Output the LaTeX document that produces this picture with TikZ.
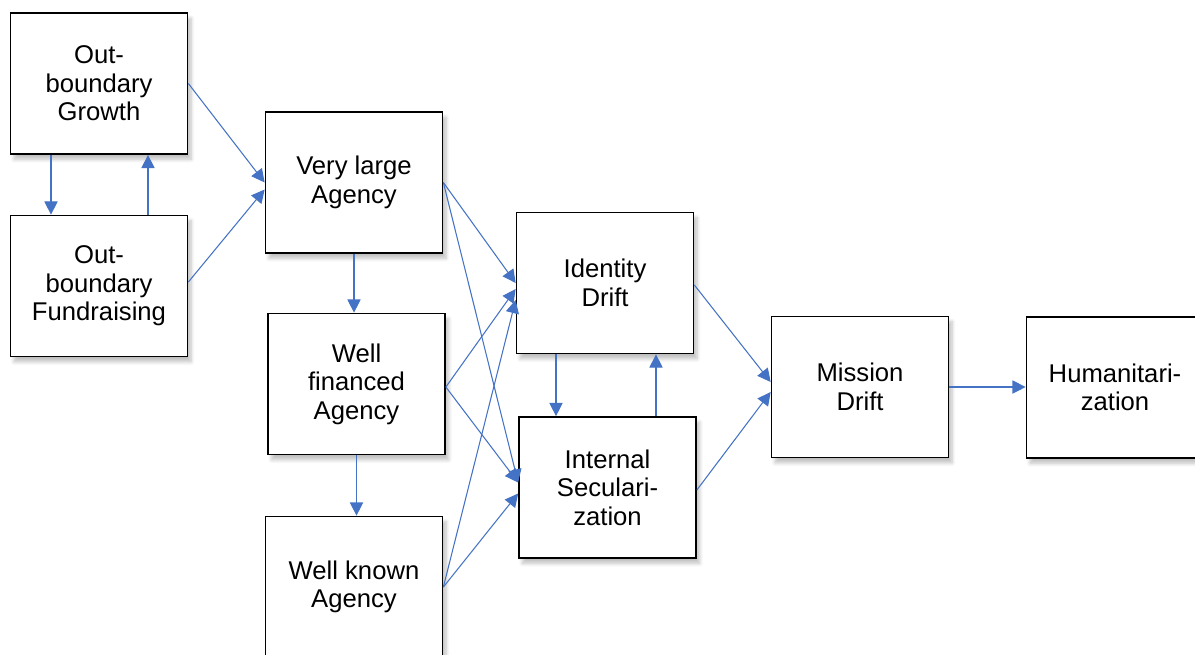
\documentclass[tikz,border=0pt]{standalone}
\usepackage{fontspec}
\setmainfont{Liberation Sans}
\usetikzlibrary{arrows.meta,calc,shadows.blur}
\definecolor{flowblue}{HTML}{4472C4}

\begin{document}
\begin{tikzpicture}[x=0.02cm,y=-0.02cm,
    box/.style={draw,line width=1pt,fill=white,align=center,
      minimum width=3.54cm,minimum height=2.82cm,
      font=\fontsize{14.6}{16.2}\selectfont,
      blur shadow={shadow xshift=2pt,shadow yshift=-3pt,shadow opacity=25,shadow blur steps=6}},
    flow/.style={flowblue,line width=0.6pt,-{Triangle[length=7.5pt,width=7.5pt]}}]
  \useasboundingbox (0,0) rectangle (1195,654);
  % boxes
  \node[box] (gro)  at (99,83.5)    {Out-\\boundary\\Growth};
  \node[box] (fund) at (99,286)     {Out-\\boundary\\Fundraising};
  \node[box] (vla)  at (354,182.5)  {Very large\\Agency};
  \node[box] (wfa)  at (356.5,384)  {Well\\financed\\Agency};
  \node[box] (wka)  at (354,587)    {Well known\\Agency};
  \node[box] (idd)  at (605,283)    {Identity\\Drift};
  \node[box] (isec) at (607.5,487.5) {Internal\\Seculari-\\zation};
  \node[box] (mis)  at (860,387)    {Mission\\Drift};
  \node[box] (hum)  at (1115,387.5) {Humanitari-\\zation};
  % growth <-> fundraising
  \coordinate (g1) at ($(gro.south)+(-48,0)$);
  \coordinate (g2) at ($(fund.north)+(49,0)$);
  \draw[flow] (g1) -- (g1 |- fund.north);
  \draw[flow] (g2) -- (g2 |- gro.south);
  \draw[flow] (gro.east) -- (vla.west);
  \draw[flow] ($(fund.east)+(0,-4)$) -- ($(vla.west)+(0,7)$);
  % agency column
  \draw[flow] (vla.south) -- (vla.south |- wfa.north);
  \draw[flow] (wfa.south) -- (wfa.south |- wka.north);
  % agencies -> drift and secularization
  \draw[flow] (vla.east) -- (idd.west);
  \draw[flow] (vla.east) -- ($(isec.west)+(0,-5)$);
  \draw[flow] ($(wfa.east)+(0,3)$) -- ($(idd.west)+(0,6)$);
  \draw[flow] ($(wfa.east)+(0,3)$) -- ($(isec.west)+(0,-5)$);
  \draw[flow] (wka.east) -- ($(idd.west)+(0,17)$);
  \draw[flow] (wka.east) -- ($(isec.west)+(0,6)$);
  % drift <-> secularization
  \coordinate (d1) at ($(idd.south)+(-49,0)$);
  \coordinate (d2) at ($(isec.north)+(48.5,0)$);
  \draw[flow] (d1) -- (d1 |- isec.north);
  \draw[flow] (d2) -- (d2 |- idd.south);
  % towards mission drift
  \draw[flow] ($(idd.east)+(0,2)$) -- ($(mis.west)+(0,-5)$);
  \draw[flow] ($(isec.east)+(0,2.5)$) -- ($(mis.west)+(0,5)$);
  \draw[flow] (mis.east) -- (mis.east -| hum.west);
\end{tikzpicture}
\end{document}
